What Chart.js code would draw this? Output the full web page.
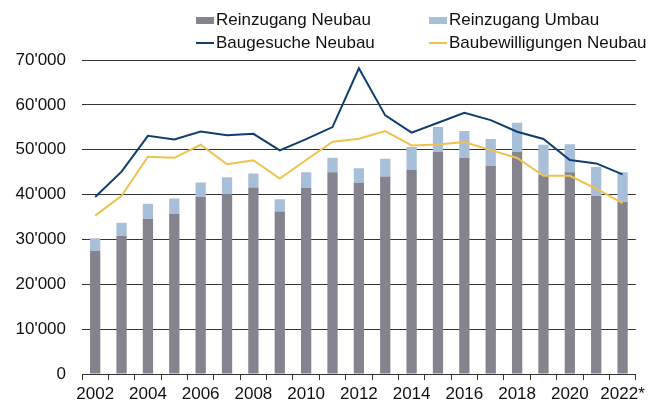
<!DOCTYPE html>
<html>
<head>
<meta charset="utf-8">
<script src="https://cdn.jsdelivr.net/npm/chart.js@4/dist/chart.umd.min.js"></script>
<style>
  html, body { margin: 0; padding: 0; background: #fff; }
  #wrap { position: relative; width: 649px; height: 403px; font-family: "Liberation Sans", Arial, sans-serif; }
  #chart { position: absolute; left: 0; top: 0; }
  .lg { position: absolute; font-size: 17px; color: #111; line-height: 20px; white-space: nowrap; }
  .lg .box { position: absolute; left: -20px; top: 7px; width: 18px; height: 7px; }
  .lg .line { position: absolute; left: -20px; top: 9px; width: 18px; height: 2px; }
</style>
</head>
<body>
<div id="wrap">
  <canvas id="chart" width="649" height="403"></canvas>
  <div class="lg" style="left:216px; top:10px;"><span class="box" style="background:#84838e"></span>Reinzugang Neubau</div>
  <div class="lg" style="left:449px; top:10px;"><span class="box" style="background:#a8bfd9"></span>Reinzugang Umbau</div>
  <div class="lg" style="left:216px; top:33px;"><span class="line" style="background:#0f3e6e"></span>Baugesuche Neubau</div>
  <div class="lg" style="left:449px; top:33px;"><span class="line" style="background:#f0c24d"></span>Baubewilligungen Neubau</div>
</div>
<script>
'use strict';

// Jahre
const years = ['2002', '2003', '2004', '2005', '2006', '2007', '2008', '2009', '2010', '2011',
    '2012', '2013', '2014', '2015', '2016', '2017', '2018', '2019', '2020', '2021', '2022*'];

// Reinzugang (Wohnungen)
const reinzugangNeubau = [27500, 30800, 34550, 35700, 39500, 40200, 41600, 36200, 41500, 45000,
    42650, 44050, 45550, 49550, 48200, 46450, 49550, 44350, 45000, 39750, 38400];
const reinzugangUmbau = [2750, 2900, 3400, 3400, 3200, 3650, 3100, 2750, 3500, 3200,
    3200, 3950, 5050, 5500, 5950, 5950, 6450, 6750, 6200, 6400, 6600];

// Baugesuche / Baubewilligungen
const baugesucheNeubau = [39450, 45100, 53100, 52300, 54050, 53200, 53550, 49850, 52350, 55050,
    68150, 57650, 53800, 56000, 58250, 56600, 54000, 52400, 47700, 46950, 44500];
const baubewilligungenNeubau = [35300, 39750, 48450, 48200, 51100, 46750, 47650, 43550, 47700, 51800,
    52450, 54150, 50950, 51150, 51700, 49900, 48150, 44200, 44200, 41300, 38100];

const yTicks = [0, 10000, 20000, 30000, 40000, 50000, 60000, 70000];

const fmt = (v) => String(v).replace(/\B(?=(\d{3})+(?!\d))/g, "'");

const ctx = document.getElementById('chart').getContext('2d');
new Chart(ctx, {
    type: 'bar',
    data: {
        labels: years,
        datasets: [
            { type: 'line', label: 'Baugesuche Neubau', data: baugesucheNeubau, borderColor: '#0f3e6e',
              borderWidth: 2, pointRadius: 0, tension: 0, stack: 'l1', order: 0 },
            { type: 'line', label: 'Baubewilligungen Neubau', data: baubewilligungenNeubau, borderColor: '#f0c24d',
              borderWidth: 2, pointRadius: 0, tension: 0, stack: 'l2', order: 0 },
            { label: 'Reinzugang Neubau', data: reinzugangNeubau, backgroundColor: '#84838e',
              stack: 'b', order: 1, barPercentage: 0.39, categoryPercentage: 1 },
            { label: 'Reinzugang Umbau', data: reinzugangUmbau, backgroundColor: '#a8bfd9',
              stack: 'b', order: 1, barPercentage: 0.39, categoryPercentage: 1 }
        ]
    },
    options: {
        responsive: false, animation: false,
        layout: { padding: { top: 60, right: 9, left: 0, bottom: 0 } },
        plugins: { legend: { display: false }, tooltip: { enabled: false } },
        scales: {
            x: {
                stacked: true,
                border: { display: true, color: '#333', width: 1 },
                grid: { offset: true, drawOnChartArea: false, drawTicks: true, tickLength: 6, color: '#333' },
                ticks: {
                    autoSkip: false, maxRotation: 0, padding: 4, color: '#111',
                    font: { family: '"Liberation Sans", Arial, sans-serif', size: 17 },
                    callback: (v, i) => (i % 2 === 0 ? years[i] : '')
                },
                afterFit: (s) => { s.height = 29; }
            },
            y: {
                stacked: true, min: 0, max: 70000,
                border: { display: false },
                grid: { color: '#333', drawTicks: false },
                afterBuildTicks: (s) => { s.ticks = yTicks.map(v => ({ value: v })); },
                ticks: {
                    padding: 16, color: '#111',
                    font: { family: '"Liberation Sans", Arial, sans-serif', size: 17 },
                    callback: (v) => fmt(v)
                },
                afterFit: (s) => { s.width = 82; }
            }
        }
    }
});
</script>
</body>
</html>
